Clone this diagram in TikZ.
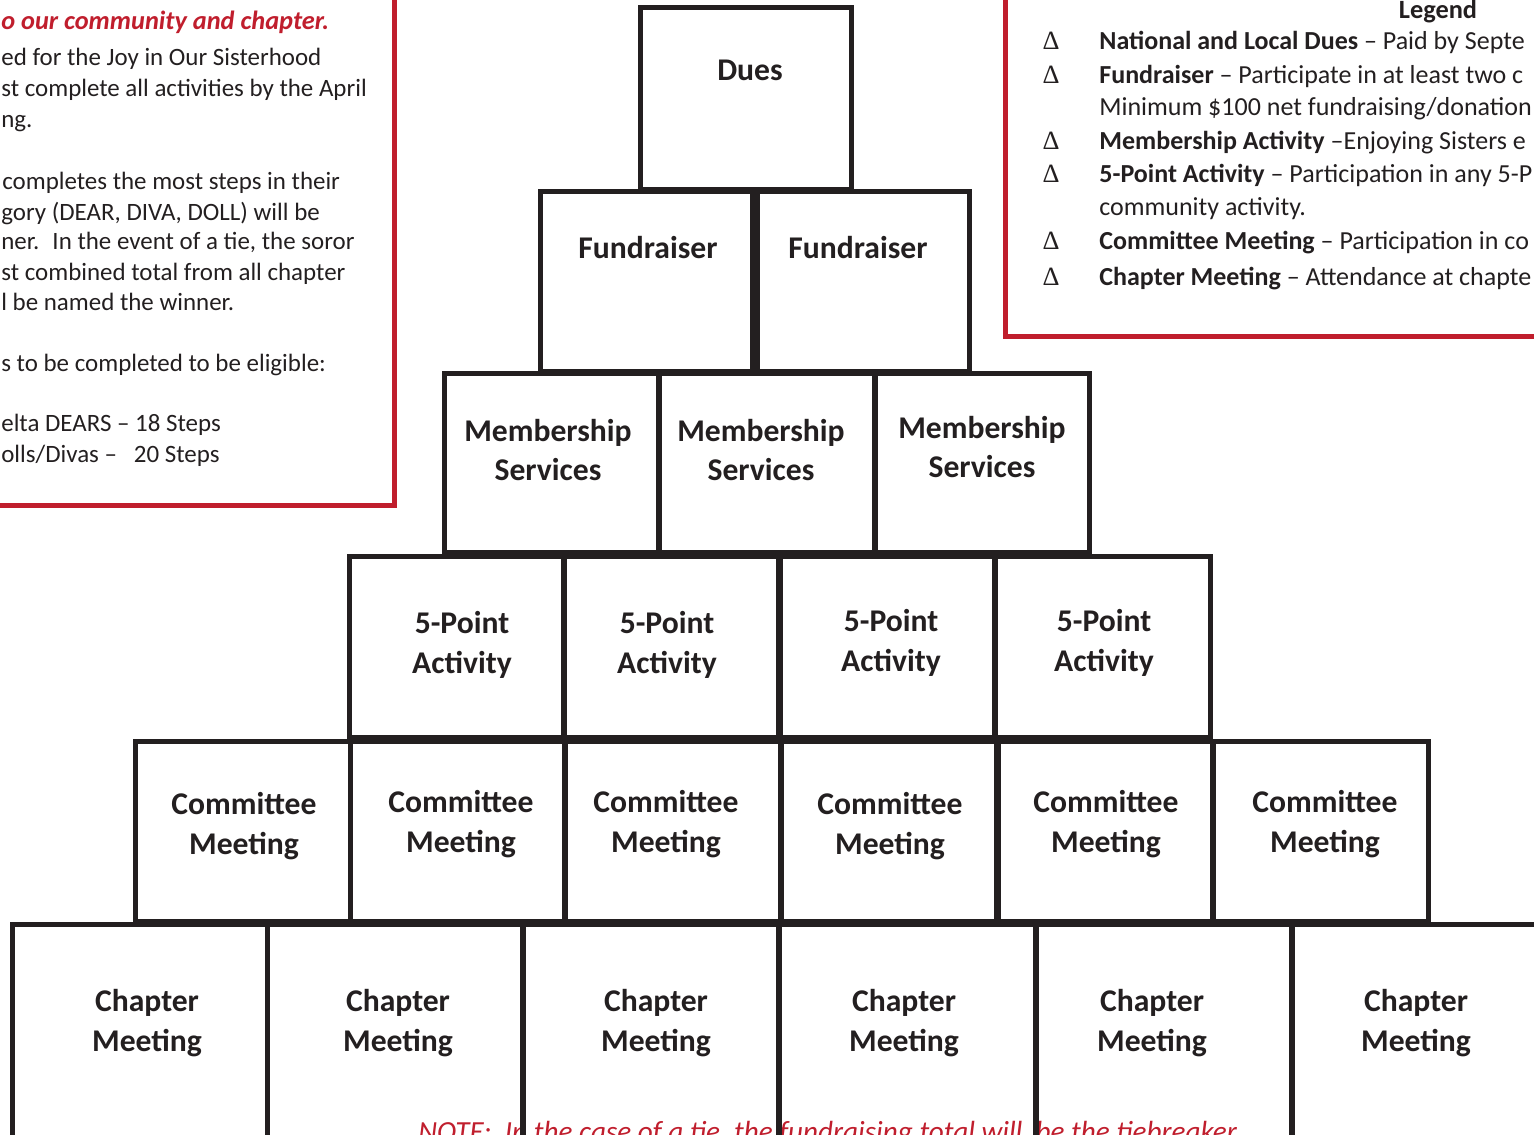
\documentclass[tikz,border=0pt]{standalone}
\usepackage{fontspec}
\setmainfont{Carlito}
\newfontfamily\deltafont{Liberation Serif}
\usetikzlibrary{positioning}
\definecolor{inkgray}{RGB}{35,31,32}
\definecolor{chapterred}{RGB}{192,30,45}

\begin{document}
\begin{tikzpicture}[x=0.02cm,y=-0.02cm,
  tierbox/.style={rectangle,draw=inkgray,line width=0.1cm,inner sep=0pt,outer sep=0pt},
  row1/.style={tierbox,minimum width=4.24cm,minimum height=3.66cm},
  row2/.style={tierbox,minimum width=4.26cm,minimum height=3.62cm},
  row3/.style={tierbox,minimum width=4.3cm,minimum height=3.6cm},
  row4/.style={tierbox,minimum width=4.3cm,minimum height=3.64cm},
  row5/.style={tierbox,minimum width=4.3cm,minimum height=3.62cm},
  row6/.style={tierbox,minimum width=5.12cm,minimum height=5.12cm},
  tiertext/.style={text=inkgray,align=center,inner sep=0pt,font=\fontsize{18}{22.6}\selectfont\bfseries},
  infotext/.style={anchor=base west,text=inkgray,inner sep=0pt,font=\fontsize{14.2}{17}\selectfont},
  legendtext/.style={anchor=base west,text=inkgray,inner sep=0pt,font=\fontsize{14.8}{18}\selectfont},
  bullet/.style={anchor=base,text=inkgray,inner sep=0pt,font=\fontsize{15}{18}\deltafont},
  panel/.style={draw=chapterred,line width=0.1cm}]

  \useasboundingbox (0,0) rectangle (1534,1135);
  \clip (0,0) rectangle (1534,1135);

  % side panels
  \draw[panel] (-20,-20) rectangle (394,505);
  \draw[panel] (1005,-20) rectangle (1560,336);

  % left panel text
  \node[infotext,text=chapterred,font=\fontsize{15}{18}\selectfont\bfseries\itshape] (intro) at (1,30) {o our community and chapter.};
  \node[infotext] (info1) at (1,66) {ed for the Joy in Our Sisterhood};
  \node[infotext] (info2) at (1,97) {st complete all activities by the April};
  \node[infotext] (info3) at (1,128) {ng.};
  \node[infotext] (info4) at (2,190) {completes the most steps in their};
  \node[infotext] (info5) at (1,220) {gory (DEAR, DIVA, DOLL) will be};
  \node[infotext] (info6) at (1,250) {ner.~ In the event of a tie, the soror};
  \node[infotext] (info7) at (1,280) {st combined total from all chapter};
  \node[infotext] (info8) at (1,310) {l be named the winner.};
  \node[infotext] (info9) at (1,371) {s to be completed to be eligible:};
  \node[infotext] (info10) at (1,431) {elta DEARS -- 18 Steps};
  \node[infotext] (info11) at (1,462) {olls/Divas --~~ 20 Steps};

  % legend
  \node[legendtext,anchor=base,font=\fontsize{15}{18}\selectfont\bfseries] (legend) at (1438,19) {Legend};
  \node[bullet] (b1) at (1051,50) {Δ};
  \node[bullet] (b2) at (1051,84) {Δ};
  \node[bullet] (b3) at (1051,150) {Δ};
  \node[bullet] (b4) at (1051,183) {Δ};
  \node[bullet] (b5) at (1051,250) {Δ};
  \node[bullet] (b6) at (1051,285) {Δ};
  \node[legendtext] (leg1) at (1099,50) {\textbf{National and Local Dues} -- Paid by Septe};
  \node[legendtext] (leg2) at (1099,84) {\textbf{Fundraiser} -- Participate in at least two c};
  \node[legendtext] (leg2b) at (1099,116) {Minimum \$100 net fundraising/donation};
  \node[legendtext] (leg3) at (1099,150) {\textbf{Membership Activity} --Enjoying Sisters e};
  \node[legendtext] (leg4) at (1099,183) {\textbf{5-Point Activity} -- Participation in any 5-P};
  \node[legendtext] (leg4b) at (1099,215) {community activity.};
  \node[legendtext] (leg5) at (1099,250) {\textbf{Committee Meeting} -- Participation in co};
  \node[legendtext] (leg6) at (1099,285) {\textbf{Chapter Meeting} -- Attendance at chapte};

  % note under the pyramid
  \node[legendtext,text=chapterred,font=\fontsize{16.6}{19}\selectfont\itshape] (note) at (418,1141) {NOTE:~ In the case of a tie, the fundraising total will~ be the tiebreaker};

  % pyramid
  \node[row1] (dues) at (746,98.5) {};
  \node[tiertext] (dues-l) at (750,70) {Dues};

  \node[row2] (fr1) at (646.5,281.5) {};
  \node[row2] (fr2) at (863.5,281.5) {};
  \node[tiertext] (fr1-l) at (648,248) {Fundraiser};
  \node[tiertext] (fr2-l) at (858,248) {Fundraiser};

  \node[row3] (ms1) at (551.5,463) {};
  \node[row3] (ms2) at (767,463) {};
  \node[row3] (ms3) at (982.5,463) {};
  \node[tiertext] (ms1-l) at (548,450) {Membership\\Services};
  \node[tiertext] (ms2-l) at (761,450) {Membership\\Services};
  \node[tiertext] (ms3-l) at (982,447) {Membership\\Services};

  \node[row4] (fp1) at (456.5,647) {};
  \node[row4] (fp2) at (671.5,647) {};
  \node[row4] (fp3) at (887.5,647) {};
  \node[row4] (fp4) at (1103,647) {};
  \node[tiertext] (fp1-l) at (462,645) {5-Point\\Activity};
  \node[tiertext] (fp2-l) at (667,645) {5-Point\\Activity};
  \node[tiertext] (fp3-l) at (891,643) {5-Point\\Activity};
  \node[tiertext] (fp4-l) at (1104,643) {5-Point\\Activity};

  \node[row5] (cm1) at (243,831.5) {};
  \node[row5] (cm2) at (457.5,831.5) {};
  \node[row5] (cm3) at (673,831.5) {};
  \node[row5] (cm4) at (889,831.5) {};
  \node[row5] (cm5) at (1105.5,831.5) {};
  \node[row5] (cm6) at (1321,831.5) {};
  \node[tiertext] (cm1-l) at (244,826) {Committee\\Meeting};
  \node[tiertext] (cm2-l) at (461,824) {Committee\\Meeting};
  \node[tiertext] (cm3-l) at (666,824) {Committee\\Meeting};
  \node[tiertext] (cm4-l) at (890,826) {Committee\\Meeting};
  \node[tiertext] (cm5-l) at (1106,824) {Committee\\Meeting};
  \node[tiertext] (cm6-l) at (1325,824) {Committee\\Meeting};

  \node[row6] (ch1) at (140,1052) {};
  \node[row6] (ch2) at (395,1052) {};
  \node[row6] (ch3) at (651,1052) {};
  \node[row6] (ch4) at (907.5,1052) {};
  \node[row6] (ch5) at (1164,1052) {};
  \node[row6] (ch6) at (1420,1052) {};
  \node[tiertext] (ch1-l) at (147,1023) {Chapter\\Meeting};
  \node[tiertext] (ch2-l) at (398,1023) {Chapter\\Meeting};
  \node[tiertext] (ch3-l) at (656,1023) {Chapter\\Meeting};
  \node[tiertext] (ch4-l) at (904,1023) {Chapter\\Meeting};
  \node[tiertext] (ch5-l) at (1152,1023) {Chapter\\Meeting};
  \node[tiertext] (ch6-l) at (1416,1023) {Chapter\\Meeting};
\end{tikzpicture}
\end{document}
